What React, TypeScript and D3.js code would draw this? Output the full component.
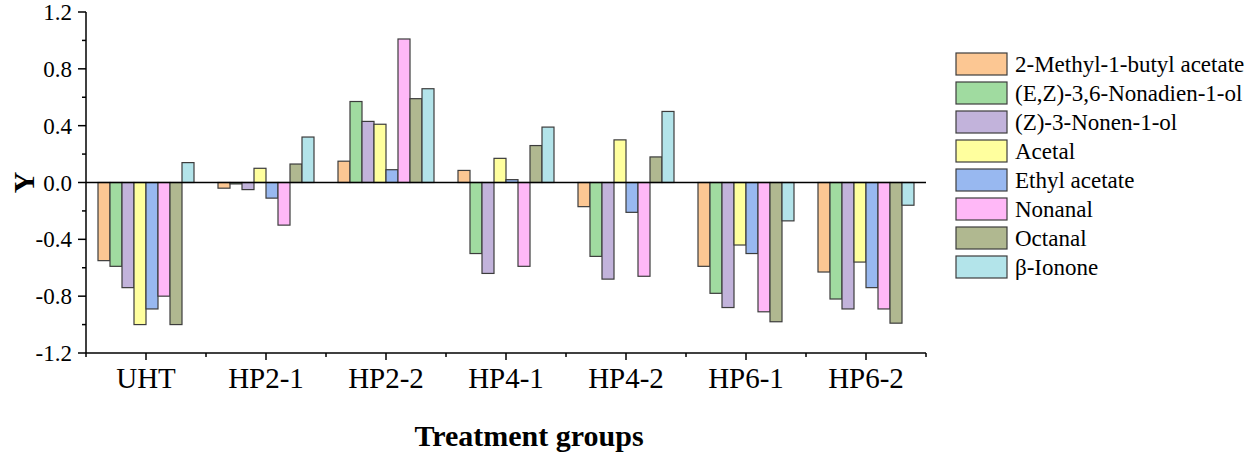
import React from "react";
import * as d3 from "d3";

// Treatment groups (x categories)
const groups = ["UHT", "HP2-1", "HP2-2", "HP4-1", "HP4-2", "HP6-1", "HP6-2"];

// Compounds (series), in legend order
const compounds = [
  "2-Methyl-1-butyl acetate",
  "(E,Z)-3,6-Nonadien-1-ol",
  "(Z)-3-Nonen-1-ol",
  "Acetal",
  "Ethyl acetate",
  "Nonanal",
  "Octanal",
  "β-Ionone",
];

const compoundColors = ["#fcc793", "#a0dba0", "#c2b3db", "#ffff9e", "#98b8f0", "#ffb8f7", "#b0b890", "#b3e4ea"];

// values per compound, one per treatment group
const methylButylAcetate = [-0.55, -0.04, 0.15, 0.085, -0.17, -0.59, -0.63];
const nonadienol = [-0.59, -0.01, 0.57, -0.5, -0.52, -0.78, -0.82];
const nonenol = [-0.74, -0.05, 0.43, -0.64, -0.68, -0.88, -0.89];
const acetal = [-1.0, 0.1, 0.41, 0.17, 0.3, -0.44, -0.56];
const ethylAcetate = [-0.89, -0.11, 0.09, 0.02, -0.21, -0.5, -0.74];
const nonanal = [-0.8, -0.3, 1.01, -0.59, -0.66, -0.91, -0.89];
const octanal = [-1.0, 0.13, 0.59, 0.26, 0.18, -0.98, -0.99];
const ionone = [0.14, 0.32, 0.66, 0.39, 0.5, -0.27, -0.16];

const seriesValues = [methylButylAcetate, nonadienol, nonenol, acetal, ethylAcetate, nonanal, octanal, ionone];

const yTicks = [-1.2, -0.8, -0.4, 0.0, 0.4, 0.8, 1.2];
const yMinorTicks = [-1.0, -0.6, -0.2, 0.2, 0.6, 1.0];

const W = 1247;
const H = 454;
const left = 86;
const right = 926;
const top = 12;
const bottom = 353;
const font = "'Times New Roman', 'Liberation Serif', serif";

const App: React.FC = () => {
  const x0 = d3.scaleBand<string>().domain(groups).range([left, right]).paddingInner(0.2).paddingOuter(0.1);
  const x1 = d3.scaleBand<string>().domain(compounds).range([0, x0.bandwidth()]);
  const y = d3.scaleLinear().domain([-1.2, 1.2]).range([bottom, top]);
  const step = x0.step();

  return (
    <svg width={W} height={H} style={{ position: "absolute", left: 0, top: 0, background: "#fff" }} fontFamily={font}>
      {/* bars */}
      {groups.map((g, gi) => (
        <g key={g} transform={`translate(${x0(g)},0)`}>
          {compounds.map((c, ci) => {
            const v = seriesValues[ci][gi];
            const yTop = y(Math.max(0, v));
            const h = Math.abs(y(v) - y(0));
            return (
              <rect
                key={c}
                x={x1(c)}
                y={yTop}
                width={x1.bandwidth()}
                height={h}
                fill={compoundColors[ci]}
                stroke="#3c3c3c"
                strokeWidth={1.2}
              />
            );
          })}
        </g>
      ))}

      {/* zero line */}
      <line x1={left} x2={right} y1={y(0)} y2={y(0)} stroke="#000" strokeWidth={1.5} />

      {/* y axis */}
      <line x1={left} x2={left} y1={top} y2={bottom} stroke="#000" strokeWidth={1.5} />
      {yTicks.map((t) => (
        <g key={t}>
          <line x1={left - 8} x2={left} y1={y(t)} y2={y(t)} stroke="#000" strokeWidth={1.5} />
          <text x={left - 14} y={y(t)} dy="0.35em" textAnchor="end" fontSize={23}>
            {t.toFixed(1)}
          </text>
        </g>
      ))}
      {yMinorTicks.map((t) => (
        <line key={t} x1={left - 4} x2={left} y1={y(t)} y2={y(t)} stroke="#000" strokeWidth={1.5} />
      ))}

      {/* x axis */}
      <line x1={left} x2={right} y1={bottom} y2={bottom} stroke="#000" strokeWidth={1.5} />
      {groups.map((g) => {
        const cx = x0(g)! + x0.bandwidth() / 2;
        return (
          <g key={g}>
            <line x1={cx} x2={cx} y1={bottom} y2={bottom + 7} stroke="#000" strokeWidth={1.5} />
            <text x={cx} y={388} textAnchor="middle" fontSize={29}>
              {g}
            </text>
          </g>
        );
      })}
      {d3.range(groups.length + 1).map((i) => (
        <line key={i} x1={left + i * step} x2={left + i * step} y1={bottom} y2={bottom + 4} stroke="#000" strokeWidth={1.5} />
      ))}

      {/* axis titles */}
      <text x={529} y={446} textAnchor="middle" fontSize={30} fontWeight="bold">
        Treatment groups
      </text>
      <text transform={`translate(34,${y(0)}) rotate(-90)`} textAnchor="middle" fontSize={30} fontWeight="bold">
        Y
      </text>

      {/* legend */}
      {compounds.map((c, i) => (
        <g key={c} transform={`translate(956,${53 + i * 29})`}>
          <rect width={51} height={22} fill={compoundColors[i]} stroke="#3c3c3c" strokeWidth={1.2} />
          <text x={59} y={11} dy="0.35em" fontSize={23}>
            {c}
          </text>
        </g>
      ))}
    </svg>
  );
};

export default App;
